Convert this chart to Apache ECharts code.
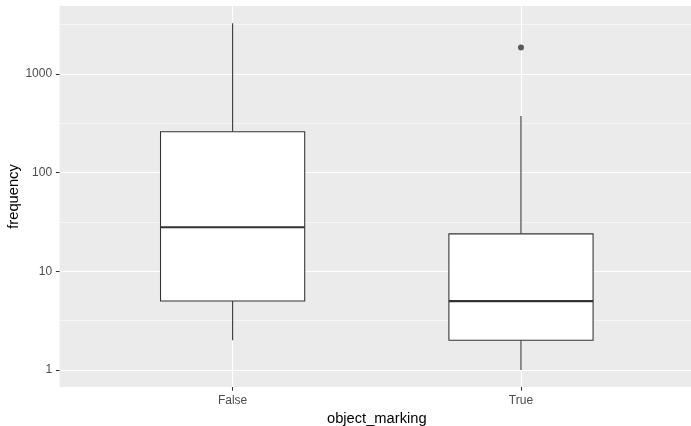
<!DOCTYPE html>
<html>
<head>
<meta charset="utf-8">
<script src="https://cdn.jsdelivr.net/npm/echarts@6/dist/echarts.min.js"></script>
<style>
  html, body { margin: 0; padding: 0; background: #fff; }
  #chart { width: 691px; height: 426px; }
</style>
</head>
<body>
<div id="chart"></div>
<script>
// Boxplot summary of frequency by object_marking (log10 scale)
const categories = ['False', 'True'];
const whiskerLow = [2, 1];
const quartile1 = [5, 2];
const medians = [28, 5];
const quartile3 = [260, 24];
const whiskerHigh = [3270, 375];
const outlierCategory = ['True'];
const outlierValues = [1860];

const majorBreaks = [1, 10, 100, 1000];
const minorBreaks = [Math.sqrt(10), 10 * Math.sqrt(10), 100 * Math.sqrt(10), 1000 * Math.sqrt(10)];

const yMin = 0.673;
const yMax = 4890;
const boxWidth = 0.5;

const boxData = categories.map((c, i) => [i + 1, whiskerLow[i], quartile1[i], medians[i], quartile3[i], whiskerHigh[i]]);
const outlierData = outlierCategory.map((c, i) => [categories.indexOf(c) + 1, outlierValues[i]]);

const ink = '#333333';
const font = '"Liberation Sans", Arial, sans-serif';

const chart = echarts.init(document.getElementById('chart'), null, { renderer: 'canvas' });

const option = {
  animation: false,
  grid: {
    left: 59.6, top: 6, right: -3, bottom: 39,
    outerBoundsMode: 'none',
    containLabel: false,
    show: true, backgroundColor: '#EBEBEB', borderWidth: 0
  },
  xAxis: {
    type: 'value',
    min: 0.4, max: 2.6,
    name: 'object_marking',
    nameLocation: 'middle',
    nameGap: 24,
    nameMoveOverlap: false,
    nameTextStyle: { color: '#000', fontSize: 14.7, fontFamily: font },
    axisLine: { show: false },
    axisTick: { show: true, length: 3.7, customValues: [1, 2], lineStyle: { color: ink, width: 1.07 } },
    axisLabel: {
      customValues: [1, 2], margin: 8,
      color: '#4D4D4D', fontSize: 12, fontFamily: font,
      formatter: v => categories[Math.round(v) - 1] || ''
    },
    splitLine: { show: true, lineStyle: { color: '#FFFFFF', width: 1.07 } }
  },
  yAxis: [{
    type: 'log',
    logBase: 10,
    min: yMin, max: yMax,
    name: 'frequency',
    nameLocation: 'middle',
    nameGap: 38,
    nameMoveOverlap: false,
    nameTextStyle: { color: '#000', fontSize: 14.7, fontFamily: font },
    axisLine: { show: false },
    axisTick: { show: true, length: 3.7, customValues: majorBreaks, lineStyle: { color: ink, width: 1.07 } },
    axisLabel: {
      customValues: majorBreaks, margin: 7.5,
      color: '#4D4D4D', fontSize: 12, fontFamily: font,
      formatter: v => String(Math.round(v))
    },
    splitLine: { show: true, lineStyle: { color: '#FFFFFF', width: 1.07 } }
  }, {
    // minor grid lines at half-decades
    type: 'log',
    logBase: 10,
    min: yMin, max: yMax,
    position: 'left',
    axisLine: { show: false },
    axisTick: { show: false, customValues: minorBreaks },
    axisLabel: { show: false, customValues: minorBreaks },
    splitLine: { show: true, lineStyle: { color: '#FFFFFF', width: 0.55 } }
  }],
  series: [{
    type: 'custom',
    yAxisIndex: 0,
    data: boxData,
    z: 5,
    renderItem: (params, api) => {
      const x = api.value(0);
      const lo = api.value(1), q1 = api.value(2), med = api.value(3), q3 = api.value(4), hi = api.value(5);
      const xl = api.coord([x - boxWidth / 2, q1])[0];
      const xr = api.coord([x + boxWidth / 2, q1])[0];
      const xc = api.coord([x, q1])[0];
      const yLo = api.coord([x, lo])[1];
      const yQ1 = api.coord([x, q1])[1];
      const yMed = api.coord([x, med])[1];
      const yQ3 = api.coord([x, q3])[1];
      const yHi = api.coord([x, hi])[1];
      const lineStyle = { stroke: ink, lineWidth: 1.07, fill: null };
      return {
        type: 'group',
        children: [
          { type: 'line', shape: { x1: xc, y1: yQ3, x2: xc, y2: yHi }, style: lineStyle },
          { type: 'line', shape: { x1: xc, y1: yQ1, x2: xc, y2: yLo }, style: lineStyle },
          { type: 'rect', shape: { x: xl, y: yQ3, width: xr - xl, height: yQ1 - yQ3 },
            style: { fill: '#FFFFFF', stroke: ink, lineWidth: 1.07 } },
          { type: 'line', shape: { x1: xl, y1: yMed, x2: xr, y2: yMed },
            style: { stroke: ink, lineWidth: 2.13 } }
        ]
      };
    }
  }, {
    type: 'scatter',
    yAxisIndex: 0,
    data: outlierData,
    symbol: 'circle',
    symbolSize: 6,
    itemStyle: { color: ink },
    z: 6
  }]
};

chart.setOption(option);
</script>
</body>
</html>
